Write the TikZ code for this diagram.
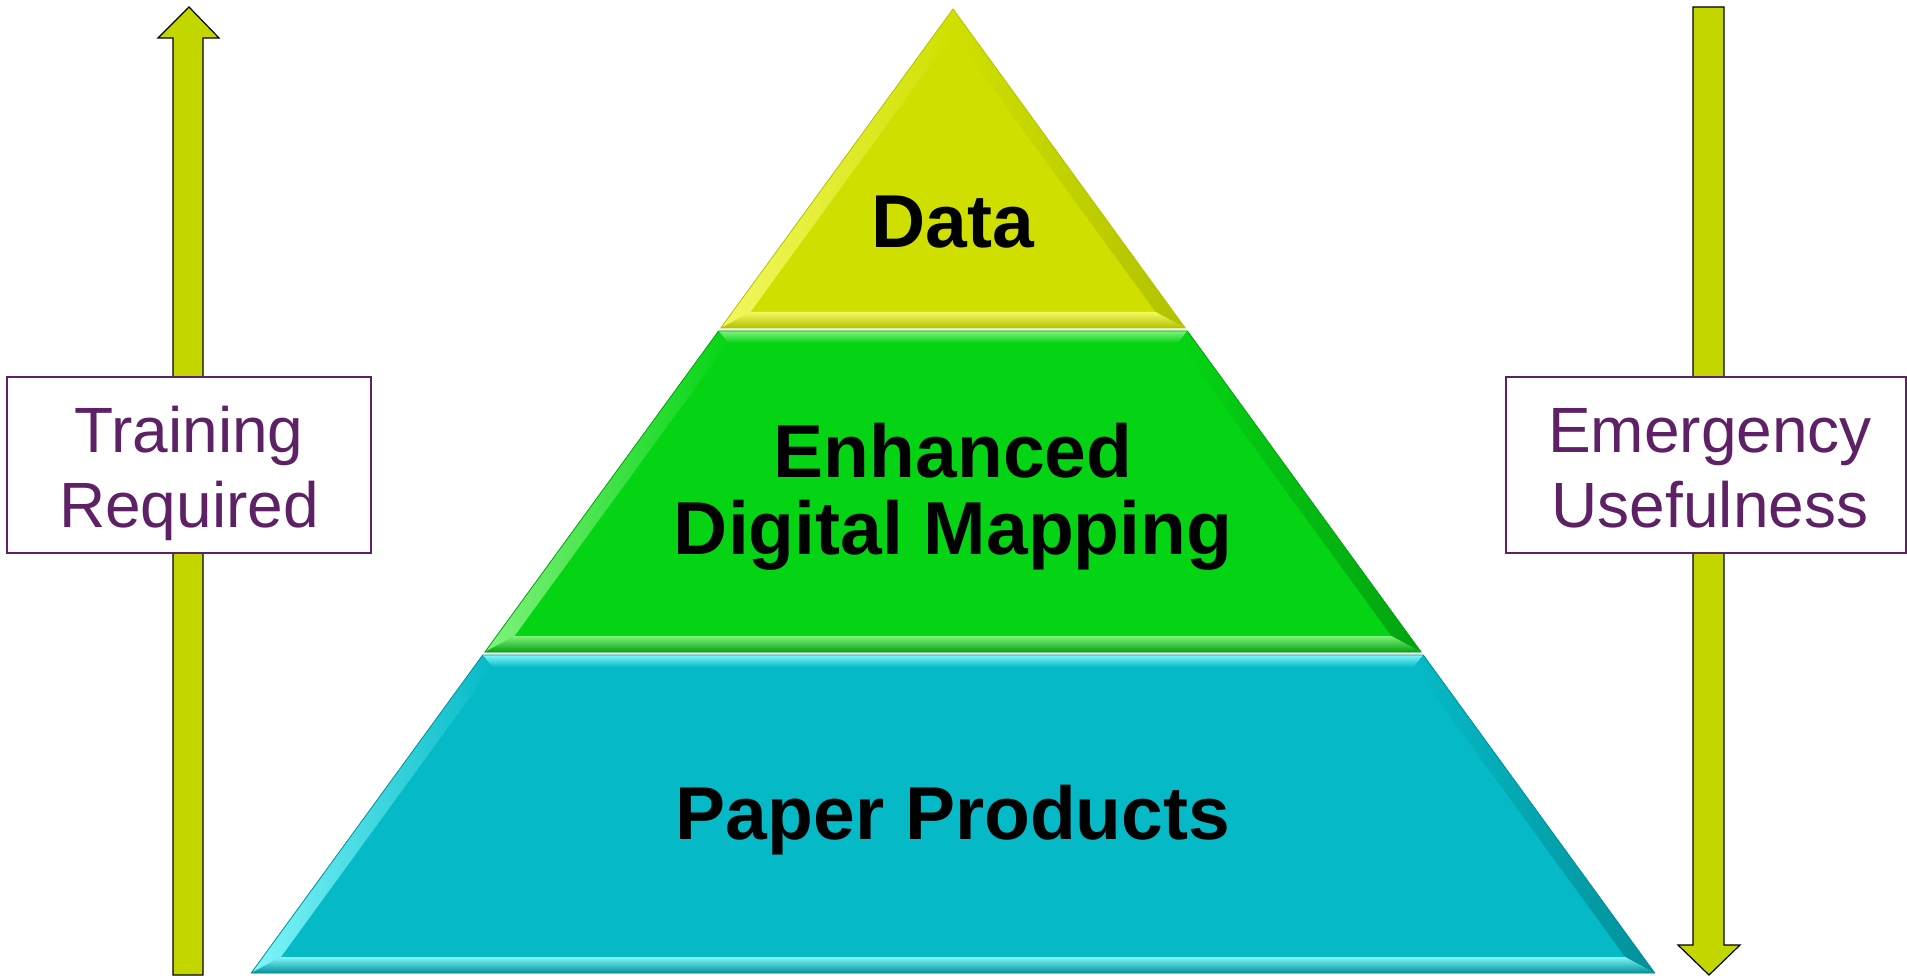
\documentclass[tikz,border=0pt]{standalone}
\usepackage{fontspec}
\setmainfont{Liberation Sans}
\usetikzlibrary{calc}
\definecolor{ylwbase}{HTML}{CFE000}
\definecolor{ylwlight}{HTML}{F4F860}
\definecolor{ylwdark}{HTML}{B2C200}
\definecolor{grnbase}{HTML}{05D414}
\definecolor{grnlight}{HTML}{80F27C}
\definecolor{grndark}{HTML}{03A30F}
\definecolor{cynbase}{HTML}{05BAC6}
\definecolor{cynlight}{HTML}{80F6FA}
\definecolor{cyndark}{HTML}{03909A}
\definecolor{arrowfill}{HTML}{C4D600}
\definecolor{purp}{HTML}{5E2166}
\tikzset{
  arrowshape/.style={fill=arrowfill, draw=black, line width=1.2pt, line join=miter},
  labelbox/.style={draw=purp, fill=white, line width=1.6pt, inner sep=0pt},
  labeltext/.style={text=purp, font=\fontsize{64}{75}\selectfont, anchor=base, inner sep=0pt},
  layertext/.style={text=black, font=\fontsize{75}{80}\selectfont\bfseries, anchor=base, inner sep=0pt},
}
% xL(y)=953-0.728(y-9), xR(y)=953+0.728(y-9)
\newcommand\pyrlayer[6]{% #1 top y, #2 bottom y, #3 base, #4 light, #5 dark, #6 name
  \pgfmathsetmacro\pyT{#1}\pgfmathsetmacro\pyB{#2}%
  \pgfmathsetmacro\pyTi{#1+12}\pgfmathsetmacro\pyBi{#2-16}%
  \pgfmathsetmacro\pyTLx{953-0.728*(\pyT-9)}%
  \pgfmathsetmacro\pyTRx{953+0.728*(\pyT-9)}%
  \pgfmathsetmacro\pyBLx{953-0.728*(\pyB-9)}%
  \pgfmathsetmacro\pyBRx{953+0.728*(\pyB-9)}%
  \pgfmathsetmacro\pyTLix{953-0.728*(\pyTi-9)+18}%
  \pgfmathsetmacro\pyTRix{953+0.728*(\pyTi-9)-18}%
  \pgfmathsetmacro\pyBLix{953-0.728*(\pyBi-9)+18}%
  \pgfmathsetmacro\pyBRix{953+0.728*(\pyBi-9)-18}%
  \coordinate (#6TL) at (\pyTLx,\pyT);
  \coordinate (#6TR) at (\pyTRx,\pyT);
  \coordinate (#6BR) at (\pyBRx,\pyB);
  \coordinate (#6BL) at (\pyBLx,\pyB);
  \coordinate (#6tl) at (\pyTLix,\pyTi);
  \coordinate (#6tr) at (\pyTRix,\pyTi);
  \coordinate (#6br) at (\pyBRix,\pyBi);
  \coordinate (#6bl) at (\pyBLix,\pyBi);
  \fill[#3] (#6TL) -- (#6TR) -- (#6BR) -- (#6BL) -- cycle;
  \shade[top color=#4, bottom color=#3] (#6TL) -- (#6TR) -- (#6tr) -- (#6tl) -- cycle;
  \shade[left color=#4, right color=#3] (#6TL) -- (#6tl) -- (#6bl) -- (#6BL) -- cycle;
  \shade[left color=#3, right color=#5] (#6TR) -- (#6BR) -- (#6br) -- (#6tr) -- cycle;
  \shade[top color=#4, bottom color=#5] (#6bl) -- (#6br) -- (#6BR) -- (#6BL) -- cycle;
  \draw[#5, line width=0.8pt] (#6TL) -- (#6TR) -- (#6BR) -- (#6BL) -- cycle;
}
\begin{document}
\begin{tikzpicture}[x=1pt, y=-1pt]
\useasboundingbox (0,0) rectangle (1907,976);

% arrows
\draw[arrowshape] (173,975) -- (173,38) -- (158,38) -- (189,7) -- (219,38) -- (203,38) -- (203,975) -- cycle;
\draw[arrowshape] (1693,7) -- (1724,7) -- (1724,945) -- (1740,945) -- (1709,975) -- (1678,945) -- (1693,945) -- cycle;

% label boxes
\node[labelbox, minimum width=364pt, minimum height=176pt] (trainbox) at (189,465) {};
\node[labeltext] (train1) at (189,452) {Training};
\node[labeltext] (train2) at (189,527) {Required};
\node[labelbox, minimum width=400pt, minimum height=176pt] (emerbox) at (1706,465) {};
\node[labeltext] (emer1) at (1710,452) {Emergency};
\node[labeltext] (emer2) at (1710,527) {Usefulness};

% top triangle (Data)
\coordinate (dA) at (953,9);
\coordinate (dBR) at (1185.2,328);
\coordinate (dBL) at (720.8,328);
\coordinate (da) at (953,34);
\coordinate (dbr) at (1155.6,312);
\coordinate (dbl) at (750.4,312);
\fill[ylwbase] (dA) -- (dBR) -- (dBL) -- cycle;
\shade[left color=ylwlight, right color=ylwbase] (dA) -- (da) -- (dbl) -- (dBL) -- cycle;
\shade[left color=ylwbase, right color=ylwdark] (dA) -- (dBR) -- (dbr) -- (da) -- cycle;
\shade[top color=ylwlight, bottom color=ylwdark] (dbl) -- (dbr) -- (dBR) -- (dBL) -- cycle;
\draw[ylwdark, line width=0.8pt] (dA) -- (dBR) -- (dBL) -- cycle;

\pyrlayer{331}{652}{grnbase}{grnlight}{grndark}{g}
\pyrlayer{655}{973}{cynbase}{cynlight}{cyndark}{c}

% layer texts
\node[layertext] (data) at (953,248) {Data};
\node[layertext] (enh1) at (953,477) {Enhanced};
\node[layertext] (enh2) at (953,554) {Digital Mapping};
\node[layertext] (paper) at (953,839) {Paper Products};
\end{tikzpicture}
\end{document}
